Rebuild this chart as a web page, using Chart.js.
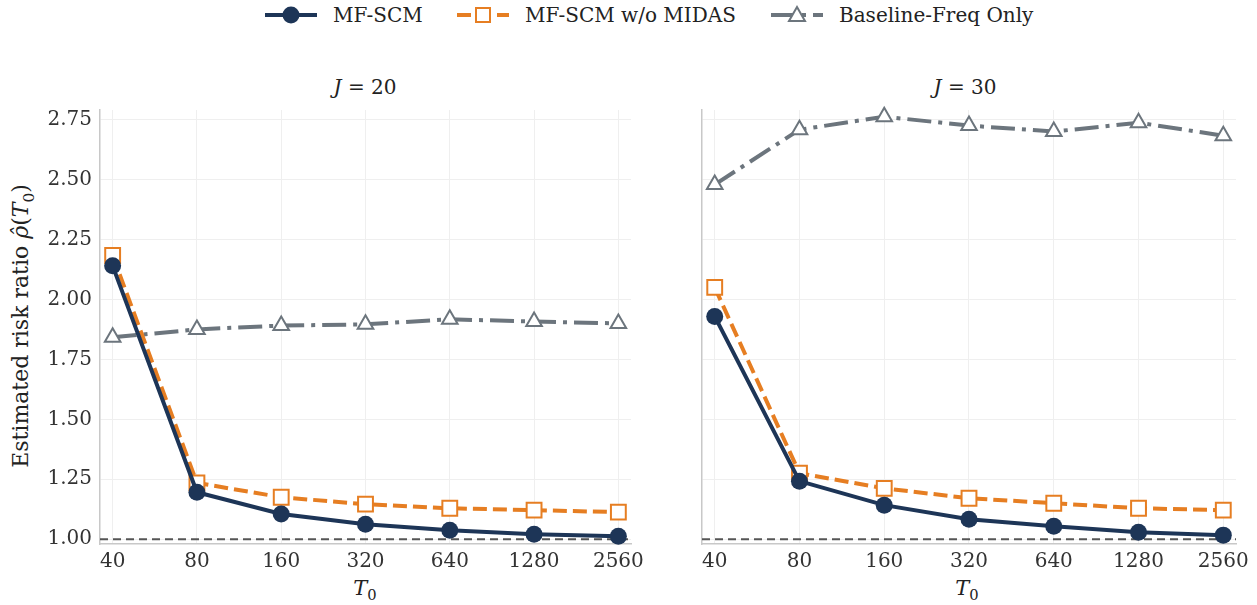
<!DOCTYPE html>
<html lang="en">
<head>
    <meta charset="UTF-8">
    <title>Risk ratio vs T0</title>
    <script src="https://cdn.jsdelivr.net/npm/chart.js"></script>
    <style>
        body { margin: 0; background: #fff; font-family: 'DejaVu Serif', serif; color: #222; }
        #page { position: relative; width: 1257px; height: 605px; overflow: hidden; }
        .panel { position: absolute; top: 0; height: 605px; }
        .title { position: absolute; top: 75px; font-size: 20px; text-align: center; width: 200px; }
        .xlabel { position: absolute; top: 576px; font-size: 21px; text-align: center; width: 100px; }
        .ylabel { position: absolute; left: 23px; top: 326px; font-size: 22px; white-space: nowrap;
                  transform: translate(-50%, -50%) rotate(-90deg); }
        .legend-item { position: absolute; top: 3px; height: 24px; display: flex; align-items: center; font-size: 20px; }
        .legend-item span { margin-left: 15px; }
        sub { font-size: 70%; font-style: normal; }
    </style>
</head>
<body>
<div id="page">
    <div id="legend"></div>
    <div class="title" style="left:265px"><i>J</i> = 20</div>
    <div class="title" style="left:865px"><i>J</i> = 30</div>
    <div class="ylabel">Estimated risk ratio <i>ρ̂</i>(<i>T</i><sub>0</sub>)</div>
    <div class="xlabel" style="left:315px"><i>T</i><sub>0</sub></div>
    <div class="xlabel" style="left:917px"><i>T</i><sub>0</sub></div>
    <div class="panel" style="left:0; width:660px"><canvas id="chartJ20"></canvas></div>
    <div class="panel" style="left:660px; width:597px"><canvas id="chartJ30"></canvas></div>
</div>

<script>
    // x categories (T0) and y ticks
    const tLabels = ['40', '80', '160', '320', '640', '1280', '2560'];
    const yTicks = [1.00, 1.25, 1.50, 1.75, 2.00, 2.25, 2.50, 2.75];
    const refValue = 1.0;

    const seriesNames = ['MF-SCM', 'MF-SCM w/o MIDAS', 'Baseline-Freq Only'];

    // J = 20
    const mfscmJ20    = [2.14, 1.196, 1.105, 1.062, 1.037, 1.021, 1.012];
    const noMidasJ20  = [2.183, 1.235, 1.175, 1.146, 1.129, 1.121, 1.113];
    const baselineJ20 = [1.842, 1.875, 1.891, 1.896, 1.917, 1.908, 1.900];

    // J = 30
    const mfscmJ30    = [1.929, 1.242, 1.142, 1.083, 1.054, 1.029, 1.017];
    const noMidasJ30  = [2.05, 1.275, 1.212, 1.171, 1.150, 1.129, 1.121];
    const baselineJ30 = [2.479, 2.708, 2.762, 2.725, 2.700, 2.737, 2.683];

    const colors = ['#1d3557', '#e67e22', '#6c757d'];
    const dashes = [[], [14, 6], [24, 7, 4, 7]];
    const SERIF = "'DejaVu Serif', serif";

    // legend
    const legendX = [264, 456, 770];
    const legendSymbols = [
        `<circle cx="27" cy="12" r="8.5" fill="${colors[0]}"/>`,
        `<rect x="20" y="5" width="14" height="14" fill="#fff" stroke="${colors[1]}" stroke-width="2"/>`,
        `<polygon points="27,4 35,18 19,18" fill="#fff" stroke="${colors[2]}" stroke-width="2"/>`
    ];
    const legend = document.getElementById('legend');
    seriesNames.forEach((name, i) => {
        const item = document.createElement('div');
        item.className = 'legend-item';
        item.style.left = legendX[i] + 'px';
        item.innerHTML = `
            <svg width="54" height="24">
                <line x1="1" y1="12" x2="53" y2="12" stroke="${colors[i]}" stroke-width="4"
                      stroke-dasharray="${dashes[i].join(' ')}"/>
                ${legendSymbols[i]}
            </svg>
            <span>${name}</span>`;
        legend.appendChild(item);
    });

    const refLine = {
        id: 'refLine',
        beforeDatasetsDraw(chart) {
            const { ctx, chartArea } = chart;
            const y = chart.scales.y.getPixelForValue(refValue);
            ctx.save();
            ctx.strokeStyle = '#555';
            ctx.lineWidth = 2;
            ctx.setLineDash([8, 5]);
            ctx.beginPath();
            ctx.moveTo(chartArea.left, y);
            ctx.lineTo(chartArea.right, y);
            ctx.stroke();
            ctx.restore();
        }
    };

    function toPoints(values) {
        return values.map((v, i) => ({ x: i, y: v }));
    }

    function makeChart(id, seriesList, opts) {
        const datasets = seriesList.map((values, i) => ({
            label: seriesNames[i],
            data: toPoints(values),
            borderColor: colors[i],
            borderWidth: 4,
            borderDash: dashes[i],
            pointStyle: ['circle', 'rect', 'triangle'][i],
            pointRadius: [8.5, 10.5, 9][i],
            pointBackgroundColor: i === 0 ? colors[0] : '#fff',
            pointBorderColor: colors[i],
            pointBorderWidth: i === 0 ? 0 : 2,
            tension: 0,
            clip: false
        }));

        return new Chart(document.getElementById(id), {
            type: 'line',
            data: { datasets },
            plugins: [refLine],
            options: {
                responsive: true,
                maintainAspectRatio: false,
                animation: false,
                layout: { padding: { top: 110, right: opts.padRight, bottom: 30, left: 0 } },
                plugins: { legend: { display: false }, tooltip: { enabled: false } },
                scales: {
                    x: {
                        type: 'linear',
                        min: -0.15,
                        max: 6.15,
                        afterBuildTicks: s => { s.ticks = tLabels.map((_, i) => ({ value: i })); },
                        afterFit: s => { s.height = 31; },
                        ticks: {
                            callback: v => tLabels[v],
                            font: { family: SERIF, size: 20 },
                            color: '#333',
                            padding: 6,
                            maxRotation: 0
                        },
                        grid: { color: '#efefef', lineWidth: 1, drawTicks: false },
                        border: { display: true, color: '#c8c8c8', width: 1.5 }
                    },
                    y: {
                        min: 0.98,
                        max: 2.79,
                        afterBuildTicks: s => { s.ticks = yTicks.map(v => ({ value: v })); },
                        afterFit: s => { s.width = opts.yWidth; },
                        ticks: {
                            display: opts.showY,
                            callback: v => v.toFixed(2),
                            font: { family: SERIF, size: 20 },
                            color: '#333',
                            padding: 8
                        },
                        grid: { color: '#efefef', lineWidth: 1, drawTicks: false },
                        border: { display: true, color: '#c8c8c8', width: 1.5 }
                    }
                }
            }
        });
    }

    makeChart('chartJ20', [mfscmJ20, noMidasJ20, baselineJ20], { padRight: 29, yWidth: 100, showY: true });
    makeChart('chartJ30', [mfscmJ30, noMidasJ30, baselineJ30], { padRight: 21, yWidth: 42, showY: false });
</script>
</body>
</html>
